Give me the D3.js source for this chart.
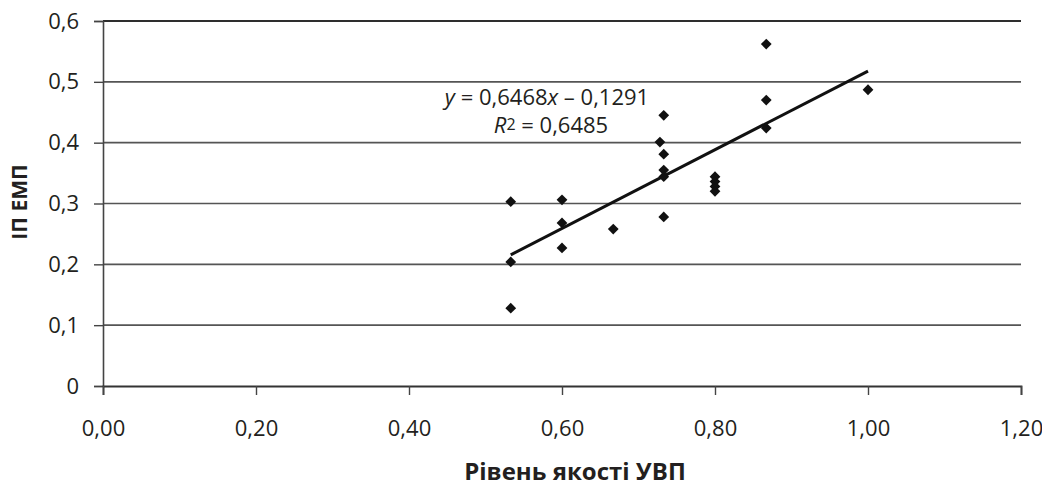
<!DOCTYPE html>
<html>
<head>
<meta charset="utf-8">
<script src="https://cdn.jsdelivr.net/npm/d3@7"></script>
<style>
  html, body { margin: 0; padding: 0; background: #fff; }
  svg { display: block; font-family: "Open Sans", "Noto Sans", sans-serif; }
</style>
</head>
<body>
<svg id="chart" width="1042" height="488"></svg>
<script>
const xValues = [0.533, 0.533, 0.533, 0.600, 0.600, 0.600, 0.667, 0.733, 0.728, 0.733, 0.733, 0.733, 0.733, 0.800, 0.800, 0.800, 0.800, 0.867, 0.867, 0.867, 1.000];
const yValues = [0.303, 0.204, 0.128, 0.306, 0.268, 0.227, 0.258, 0.445, 0.401, 0.381, 0.355, 0.344, 0.278, 0.344, 0.336, 0.328, 0.320, 0.562, 0.470, 0.424, 0.487];
const xTicks = [0, 0.2, 0.4, 0.6, 0.8, 1.0, 1.2];
const yTicks = [0, 0.1, 0.2, 0.3, 0.4, 0.5, 0.6];
const slope = 0.6468, intercept = -0.1291;
const xTitle = "Рівень якості УВП";
const yTitle = "ІП ЕМП";

const svg = d3.select("#chart");
const mLeft = 103, mRight = 1021, mTop = 21, mBottom = 386;
const x = d3.scaleLinear().domain([0, 1.2]).range([mLeft, mRight]);
const y = d3.scaleLinear().domain([0, 0.6]).range([mBottom, mTop]);
const fmtX = v => d3.format(".2f")(v).replace(".", ",");
const fmtY = v => v === 0 ? "0" : d3.format(".1f")(v).replace(".", ",");

// gridlines
svg.append("g").selectAll("line").data(yTicks.filter(t => t > 0)).join("line")
  .attr("x1", mLeft).attr("x2", mRight)
  .attr("y1", d => y(d)).attr("y2", d => y(d))
  .attr("stroke", d => d === 0.6 ? "#2e2e2e" : "#555")
  .attr("stroke-width", d => d === 0.6 ? 2.2 : 1.7);

// y axis
const yAxis = svg.append("g").attr("transform", `translate(${mLeft},0)`)
  .call(d3.axisLeft(y).tickValues(yTicks).tickFormat(fmtY).tickSize(9).tickPadding(15));
yAxis.select(".domain").attr("stroke", "#444").attr("stroke-width", 1.6);
yAxis.selectAll(".tick line").attr("stroke", "#444").attr("stroke-width", 1.4);
yAxis.selectAll("text").attr("font-size", 22).attr("fill", "#231f20")
  .attr("font-family", "'Open Sans', sans-serif");

// x axis
const xAxis = svg.append("g").attr("transform", `translate(0,${mBottom})`)
  .call(d3.axisBottom(x).tickValues(xTicks).tickFormat(fmtX).tickSize(9).tickPadding(25));
xAxis.select(".domain").attr("stroke", "#333").attr("stroke-width", 1.8);
xAxis.selectAll(".tick line").attr("stroke", "#444").attr("stroke-width", 1.4);
xAxis.selectAll("text").attr("font-size", 22).attr("fill", "#231f20")
  .attr("font-family", "'Open Sans', sans-serif");

// trendline
const x0 = d3.min(xValues), x1 = d3.max(xValues);
svg.append("line")
  .attr("x1", x(x0)).attr("y1", y(slope * x0 + intercept))
  .attr("x2", x(x1)).attr("y2", y(slope * x1 + intercept))
  .attr("stroke", "#111").attr("stroke-width", 3);

// points
const sym = d3.symbol().type(d3.symbolSquare).size(58);
svg.append("g").selectAll("path").data(xValues.map((v, i) => [v, yValues[i]])).join("path")
  .attr("d", sym)
  .attr("transform", d => `translate(${x(d[0])},${y(d[1])}) rotate(45)`)
  .attr("fill", "#111");

// equation
const eq = svg.append("text").attr("x", 547).attr("y", 105).attr("text-anchor", "middle")
  .attr("font-size", 22).attr("fill", "#231f20");
eq.append("tspan").attr("font-style", "italic").text("y");
eq.append("tspan").text(" = 0,6468");
eq.append("tspan").attr("font-style", "italic").text("x");
eq.append("tspan").text(" – 0,1291");
const r2 = svg.append("text").attr("x", 551).attr("y", 133).attr("text-anchor", "middle")
  .attr("font-size", 22).attr("fill", "#231f20");
r2.append("tspan").attr("font-style", "italic").text("R");
r2.append("tspan").attr("font-size", 16).attr("dy", -3).text("2");
r2.append("tspan").attr("dy", 3).text(" = 0,6485");

// titles
svg.append("text").attr("x", 575).attr("y", 480).attr("text-anchor", "middle")
  .attr("font-size", 24).attr("font-weight", "bold").attr("fill", "#231f20").text(xTitle);
svg.append("text").attr("transform", "translate(27,202) rotate(-90)").attr("text-anchor", "middle")
  .attr("font-size", 21).attr("font-weight", "bold").attr("fill", "#231f20").text(yTitle);
</script>
</body>
</html>
